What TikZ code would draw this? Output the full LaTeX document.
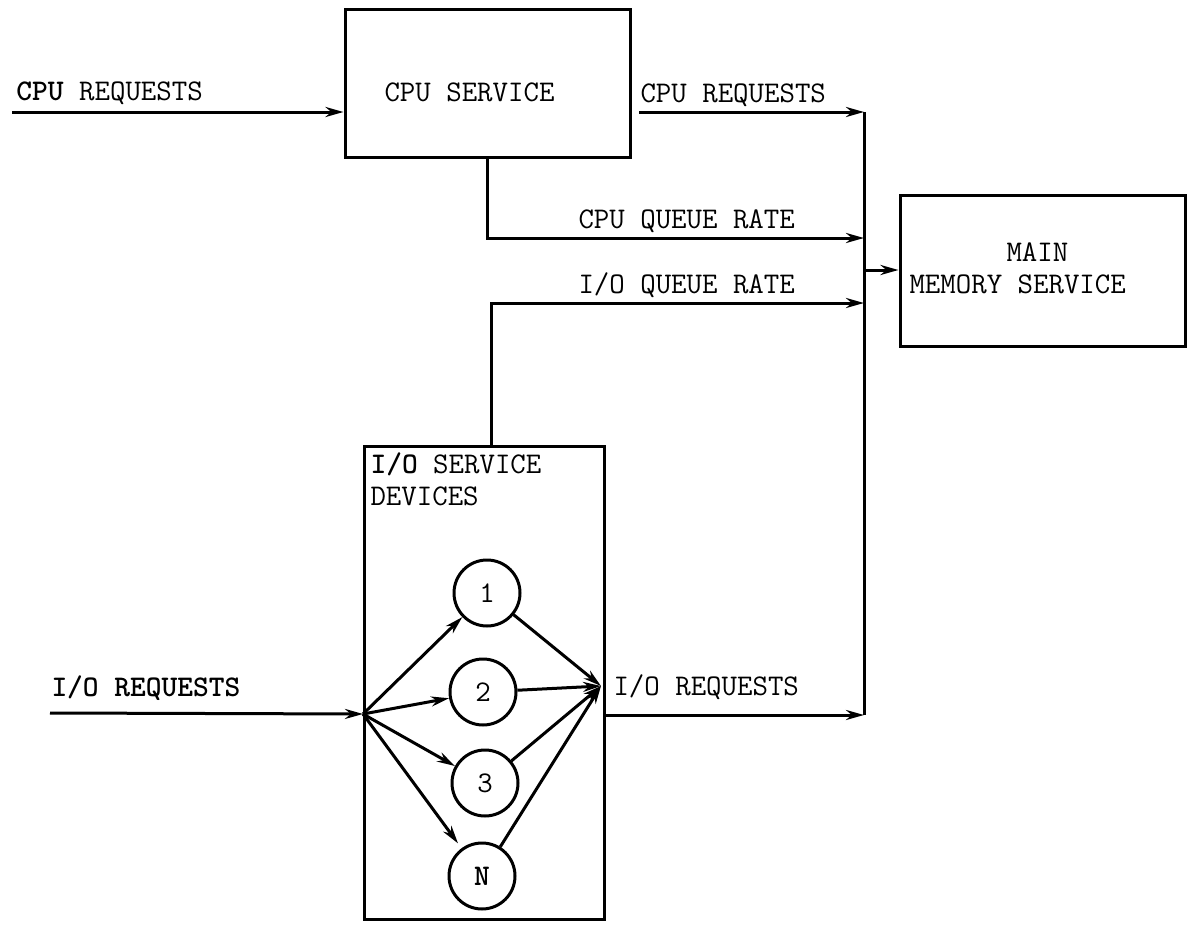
\documentclass[tikz,border=0pt]{standalone}
\usepackage{fontspec}
\usetikzlibrary{arrows.meta}
\begin{document}
\begin{tikzpicture}[x=0.5pt,y=-0.5pt,
  line width=1.5pt,
  font=\ttfamily\fontsize{15}{17}\selectfont,
  box/.style={draw,rectangle,inner sep=0pt},
  dev/.style={draw,circle,minimum size=33pt,inner sep=0pt},
  lbl/.style={inner sep=0pt,anchor=base west},
  arr/.style={-{Stealth[length=9pt,width=5pt]}}]
\useasboundingbox (0,0) rectangle (1196,926);
% boxes
\node[box,minimum width=142.5pt,minimum height=74pt] (cpu) at (487.5,83) {};
\node[box,minimum width=142.5pt,minimum height=75.5pt] (mem) at (1042.5,270.5) {};
\node[box,minimum width=120pt,minimum height=236.5pt] (io) at (484,682.5) {};
% devices
\node[dev] (c1) at (487,593) {1};
\node[dev] (c2) at (483,692) {2};
\node[dev] (c3) at (485,783) {3};
\node[dev] (cN) at (482,876) {\textbf{N}};
% coordinates
\coordinate (cpuin) at (12,112);
\coordinate (cpuout) at (639,112);
\coordinate (b1) at (864,112);
\coordinate (b2) at (864,238);
\coordinate (b5) at (864,270);
\coordinate (b3) at (864,303);
\coordinate (b4) at (864,715);
\coordinate (ioin) at (50,713);
\coordinate (fanout) at (363,714);
\coordinate (fanin) at (601,686);
% connectors
\draw[arr] (cpuin) -- (cpuin -| cpu.west);
\draw[arr] (cpuout) -- (b1);
\draw[arr] (cpu.south) |- (b2);
\draw[arr] ([xshift=3.5pt]io.north) |- (b3);
\draw[arr] (b4 -| io.east) -- (b4);
\draw (b1) -- (b4);
\draw[arr] (b5) -- (b5 -| mem.west);
\draw[arr] (ioin) -- (fanout);
\draw[arr] (fanout) -- (c1);
\draw[arr] (fanout) -- (c2);
\draw[arr] (fanout) -- (c3);
\draw[arr,shorten >=3pt] (fanout) -- (cN);
\draw[arr] (c1) -- (fanin);
\draw[arr] (c2) -- (fanin);
\draw[arr] (c3) -- (fanin);
\draw[arr] (cN) -- (fanin);
% labels
\node[lbl] (l1) at (15,100) {\textbf{CPU} REQUESTS};
\node[lbl] (l2) at (383,101) {CPU SERVICE};
\node[lbl] (l3) at (639,102) {CPU REQUESTS};
\node[lbl] (l4) at (577,228) {CPU QUEUE RATE};
\node[lbl] (l5) at (577,293) {I/O QUEUE RATE};
\node[lbl] (l6) at (1005,261) {MAIN};
\node[lbl] (l7) at (908,293) {MEMORY SERVICE};
\node[lbl] (l8) at (369,473) {\textbf{I/O} SERVICE};
\node[lbl] (l9) at (369,505) {DEVICES};
\node[lbl] (l10) at (612,695) {I/O REQUESTS};
\node[lbl] (l11) at (50,696) {\textbf{I/O REQUESTS}};
\end{tikzpicture}
\end{document}
